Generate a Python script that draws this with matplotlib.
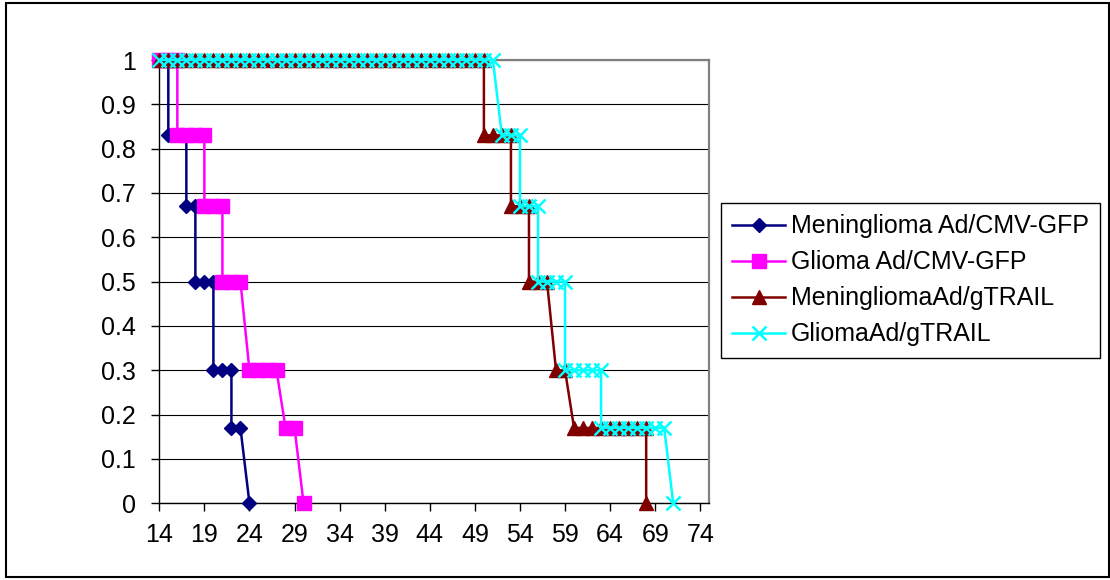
import matplotlib

matplotlib.use("Agg")
import matplotlib.pyplot as plt
from matplotlib.patches import Rectangle

plt.rcParams["font.family"] = ["Liberation Sans", "DejaVu Sans"]

# survival curves (day, fraction surviving)
mening_gfp_days = [14, 15, 15, 16, 17, 17, 18, 18, 19, 20, 20, 21, 22, 22, 23, 24]
mening_gfp_surv = [1, 1, 0.83, 0.83, 0.83, 0.67, 0.67, 0.5, 0.5, 0.5, 0.3, 0.3, 0.3, 0.17, 0.17, 0]

glioma_gfp_days = [14, 15, 16, 16, 17, 18, 19, 19, 20, 21, 21, 22, 23, 24, 25, 26, 27, 28, 29, 30]
glioma_gfp_surv = [1, 1, 1, 0.83, 0.83, 0.83, 0.83, 0.67, 0.67, 0.67, 0.5, 0.5, 0.5,
                   0.3, 0.3, 0.3, 0.3, 0.17, 0.17, 0]

mening_trail_days = [14, 15, 16, 17, 18, 19, 20, 21, 22, 23, 24, 25, 26, 27, 28, 29, 30, 31, 32,
                     33, 34, 35, 36, 37, 38, 39, 40, 41, 42, 43, 44, 45, 46, 47, 48, 49, 50,
                     50, 51, 52, 53, 53, 54, 55, 55, 56, 57, 58, 59,
                     60, 61, 62, 63, 64, 65, 66, 67, 68, 68]
mening_trail_surv = [1, 1, 1, 1, 1, 1, 1, 1, 1, 1, 1, 1, 1, 1, 1, 1, 1, 1, 1,
                     1, 1, 1, 1, 1, 1, 1, 1, 1, 1, 1, 1, 1, 1, 1, 1, 1, 1,
                     0.83, 0.83, 0.83, 0.83, 0.67, 0.67, 0.67, 0.5, 0.5, 0.5, 0.3, 0.3,
                     0.17, 0.17, 0.17, 0.17, 0.17, 0.17, 0.17, 0.17, 0.17, 0]

glioma_trail_days = [14, 15, 16, 17, 18, 19, 20, 21, 22, 23, 24, 25, 26, 27, 28, 29, 30, 31, 32,
                     33, 34, 35, 36, 37, 38, 39, 40, 41, 42, 43, 44, 45, 46, 47, 48, 49, 50, 51,
                     52, 53, 54, 54, 55, 56, 56, 57, 58, 59, 59, 60, 61, 62, 63,
                     63, 64, 65, 66, 67, 68, 69, 70, 71]
glioma_trail_surv = [1, 1, 1, 1, 1, 1, 1, 1, 1, 1, 1, 1, 1, 1, 1, 1, 1, 1, 1,
                     1, 1, 1, 1, 1, 1, 1, 1, 1, 1, 1, 1, 1, 1, 1, 1, 1, 1, 1,
                     0.83, 0.83, 0.83, 0.67, 0.67, 0.67, 0.5, 0.5, 0.5, 0.5, 0.3, 0.3, 0.3, 0.3, 0.3,
                     0.17, 0.17, 0.17, 0.17, 0.17, 0.17, 0.17, 0.17, 0]

x_ticks = [14, 19, 24, 29, 34, 39, 44, 49, 54, 59, 64, 69, 74]
y_ticks = [0, 0.1, 0.2, 0.3, 0.4, 0.5, 0.6, 0.7, 0.8, 0.9, 1]
y_tick_labels = ["0", "0.1", "0.2", "0.3", "0.4", "0.5", "0.6", "0.7", "0.8", "0.9", "1"]

W, H = 1110, 580
fig = plt.figure(figsize=(W / 100, H / 100), dpi=100)
ax = fig.add_axes([159.3 / W, 1 - 503.3 / H, 550 / W, 443.3 / H])

series = [
    (mening_gfp_days, mening_gfp_surv, "Meninglioma Ad/CMV-GFP", "#000080", "D", 7.0),
    (glioma_gfp_days, glioma_gfp_surv, "Glioma Ad/CMV-GFP", "#FF00FF", "s", 9.4),
    (mening_trail_days, mening_trail_surv, "MeningliomaAd/gTRAIL", "#800000", "^", 10.5),
    (glioma_trail_days, glioma_trail_surv, "GliomaAd/gTRAIL", "#00FFFF", "x", 10.0),
]
for i, (xs, ys, label, color, marker, ms) in enumerate(series):
    ax.plot(xs, ys, color=color, lw=1.8, marker=marker, ms=ms, mew=1.8 if marker == "x" else 1.0,
            mec=color, mfc=color, label=label, clip_on=False, zorder=3 + i)

ax.set_xlim(14, 75)
ax.set_ylim(0, 1)
ax.set_xticks(x_ticks)
ax.set_yticks(y_ticks)
ax.set_yticklabels(y_tick_labels)
ax.tick_params(axis="both", labelsize=18, direction="out", length=6, width=1, color="black")
ax.tick_params(axis="y", pad=11)
ax.tick_params(axis="x", pad=8)
ax.grid(axis="y", color="black", lw=0.8)
ax.set_axisbelow(True)
for side in ("top", "right"):
    ax.spines[side].set_color("#808080")
    ax.spines[side].set_linewidth(1.6)
for side in ("left", "bottom"):
    ax.spines[side].set_color("black")
    ax.spines[side].set_linewidth(1.0)

leg = fig.legend(loc="upper left", bbox_to_anchor=(721 / W, 1 - 203 / H), fontsize=18,
                 frameon=True, fancybox=False, shadow=False, framealpha=1,
                 edgecolor="black", borderaxespad=0, borderpad=0.45, handlelength=2.1,
                 handletextpad=0.25, labelspacing=0.48)
leg.get_frame().set_linewidth(1.0)

fig.patches.append(Rectangle((5.5 / W, 3.3 / H), 1103.8 / W, 573.4 / H, transform=fig.transFigure,
                             fill=False, edgecolor="black", lw=1.5))

fig.savefig("out.png", dpi=100)
